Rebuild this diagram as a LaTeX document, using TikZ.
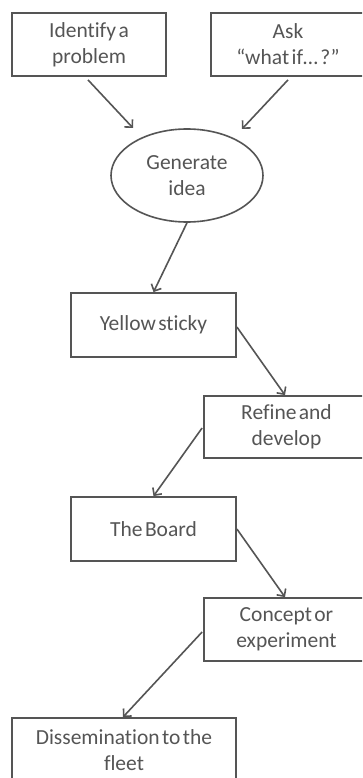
\documentclass[tikz,border=0pt]{standalone}
\usepackage{fontspec}
\setmainfont{Carlito}[WordSpace=0.5,Ligatures=CommonOff]
\usetikzlibrary{shapes.geometric,arrows.meta,calc}
\definecolor{ink}{HTML}{555555}
\tikzset{
  stepbox/.style={draw=ink, line width=1.8pt, rectangle, inner sep=0pt,
    align=center, text=ink, font=\fontsize{21.5}{26}\selectfont},
  idea/.style={draw=ink, line width=1.6pt, ellipse, inner sep=0pt,
    minimum width=152pt, minimum height=93pt,
    align=center, text=ink, font=\fontsize{21.5}{26}\selectfont},
  flow/.style={draw=ink, line width=1.6pt,
    -{Straight Barb[length=5.5pt,width=11pt,line width=1.6pt]}}
}
\begin{document}
\begin{tikzpicture}[x=1pt,y=-1pt]
  \useasboundingbox (0,0) rectangle (362,778);
  \clip (0,0) rectangle (362,778);
  \fill[white] (0,0) rectangle (362,778);

  % sources of ideas
  \node[stepbox, minimum width=154pt, minimum height=63pt] (prob) at (89,44.5) {Identify a\\problem};
  \node[stepbox, minimum width=154pt, minimum height=63pt] (ask) at (288,44.5) {Ask\\“what if… ?”};
  \node[idea] (gen) at (187,175.5) {Generate\\idea};

  % idea pipeline
  \node[stepbox, minimum width=165pt, minimum height=64pt] (sticky) at (153.5,325) {Yellow sticky};
  \node[stepbox, minimum width=165pt, minimum height=62pt] (refine) at (286.5,427) {Refine and\\develop};
  \node[stepbox, minimum width=165pt, minimum height=64pt] (board) at (153.5,529) {The Board};
  \node[stepbox, minimum width=165pt, minimum height=63pt] (concept) at (286.5,629.5) {Concept or\\experiment};
  \node[stepbox, minimum width=224pt, minimum height=64pt] (fleet) at (124,750) {Dissemination to the\\fleet};

  % connectors
  \draw[flow] ($(prob.south)+(-1,3)$) -- ($(gen.center)+(-54,-47.5)$);
  \draw[flow] ($(ask.south)+(0,3)$) -- ($(gen.center)+(55,-46.5)$);
  \draw[flow] (gen.south) -- (sticky.north);
  \draw[flow] ($(sticky.east)+(0,2)$) -- ($(refine.north)+(-1.5,0)$);
  \draw[flow] ($(refine.west)+(-1,1)$) -- (board.north);
  \draw[flow] (board.east) -- ($(concept.north)+(-1.5,0)$);
  \draw[flow] ($(concept.west)+(-1,2.5)$) -- ($(fleet.north)+(-1,0)$);
\end{tikzpicture}
\end{document}
